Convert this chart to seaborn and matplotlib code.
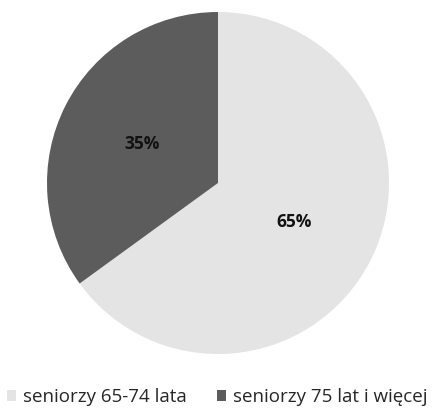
import matplotlib

matplotlib.use("Agg")
import matplotlib.pyplot as plt
import seaborn as sns

sns.set_theme(style="white")
plt.rcParams["font.family"] = ["Open Sans", "DejaVu Sans"]

# Data
categories = ["seniorzy 65-74 lata", "seniorzy 75 lat i więcej"]
shares = [65, 35]
colors = ["#e4e4e4", "#5c5c5c"]

fig = plt.figure(figsize=(4.34, 4.13), dpi=100)
# pie centred around (218, 183) px, radius ~171 px
ax = fig.add_axes([47 / 434, (413 - 354) / 413, 342 / 434, 342 / 413])

wedges, texts, autotexts = ax.pie(
    shares,
    colors=colors,
    startangle=90,
    counterclock=False,
    autopct="%d%%",
    pctdistance=0.5,
    radius=1.0,
    textprops={"fontsize": 12.5, "fontweight": "bold", "color": "#111111"},
    wedgeprops={"linewidth": 0},
)
ax.set_aspect("equal")
ax.set_xlim(-1, 1)
ax.set_ylim(-1, 1)

fig.legend(
    wedges,
    categories,
    loc="lower center",
    bbox_to_anchor=(0.5, -0.025),
    ncol=2,
    frameon=False,
    fontsize=13.5,
    handlelength=0.5,
    handleheight=0.5,
    handletextpad=0.35,
    columnspacing=1.6,
)

fig.savefig("out.png", dpi=100)
